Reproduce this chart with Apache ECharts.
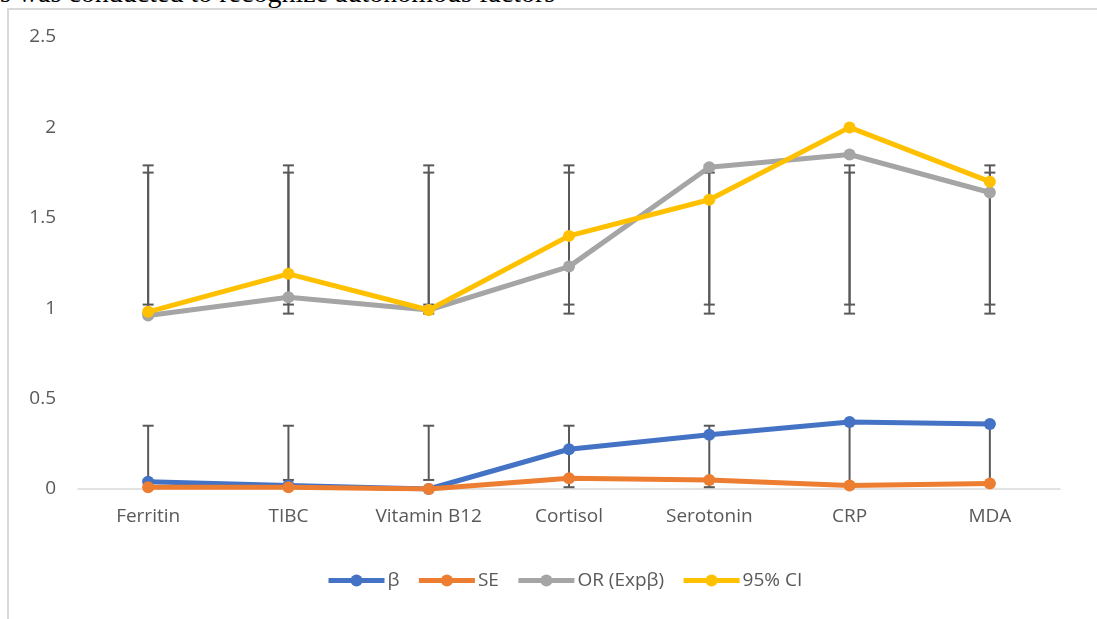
<!DOCTYPE html>
<html>
<head>
<meta charset="utf-8">
<script src="https://cdn.jsdelivr.net/npm/echarts@6/dist/echarts.min.js"></script>
<style>
  html, body { margin: 0; padding: 0; background: #fff; overflow: hidden; }
  #wrap { position: relative; width: 1097px; height: 619px; overflow: hidden; }
  #topText { position: absolute; left: 0; top: -21px; font-family: "Liberation Serif", serif; font-size: 28px; line-height: 28px; color: #000; white-space: nowrap; }
  #frame { position: absolute; left: 7px; top: 8px; width: 1200px; height: 700px; border: 2px solid #D9D9D9; box-sizing: border-box; }
  #chart { position: absolute; left: 0; top: 0; width: 1097px; height: 619px; }
</style>
</head>
<body>
<div id="wrap">
  <div id="topText">s was conducted to recognize autonomous factors</div>
  <div id="frame"></div>
  <div id="chart"></div>
</div>
<script>
const categories = ['Ferritin', 'TIBC', 'Vitamin B12', 'Cortisol', 'Serotonin', 'CRP', 'MDA'];
const seriesNames = ['β', 'SE', 'OR (Expβ)', '95% CI'];
const beta = [0.04, 0.02, 0.00, 0.22, 0.30, 0.37, 0.36];
const se = [0.01, 0.01, 0.00, 0.06, 0.05, 0.02, 0.03];
const orExp = [0.96, 1.06, 0.99, 1.23, 1.78, 1.85, 1.64];
const ci95 = [0.98, 1.19, 0.99, 1.40, 1.60, 2.00, 1.70];
// error bar ends (custom error bars)
const orErrLow = [0.97, 0.97, 0.97, 0.97, 0.97, 0.97, 0.97];
const orErrHigh = [1.75, 1.75, 1.75, 1.75, 1.75, 1.75, 1.75];
const ciErrLow = [1.02, 1.02, 1.02, 1.02, 1.02, 1.02, 1.02];
const ciErrHigh = [1.79, 1.79, 1.79, 1.79, 1.79, 1.79, 1.79];
const betaErrLow = [0.05, 0.05, 0.05, 0.01, 0.01, 0.02, 0.03];
const betaErrHigh = [0.35, 0.35, 0.35, 0.35, 0.35, 0.36, 0.36];
const yTicks = { min: 0, max: 2.5, interval: 0.5 };

const colors = ['#4472C4', '#ED7D31', '#A5A5A5', '#FFC000'];
const values = [beta, se, orExp, ci95];
const labelFont = 'Open Sans';

function errData(lo, hi) {
  return categories.map((c, i) => [i, lo[i], hi[i]]);
}
function renderErr(params, api) {
  const a = api.coord([api.value(0), api.value(1)]);
  const b = api.coord([api.value(0), api.value(2)]);
  const hw = 5.5;
  const st = { stroke: '#595959', lineWidth: 2 };
  return {
    type: 'group',
    children: [
      { type: 'line', shape: { x1: a[0], y1: a[1], x2: b[0], y2: b[1] }, style: st },
      { type: 'line', shape: { x1: a[0] - hw, y1: a[1], x2: a[0] + hw, y2: a[1] }, style: st },
      { type: 'line', shape: { x1: b[0] - hw, y1: b[1], x2: b[0] + hw, y2: b[1] }, style: st }
    ]
  };
}

const errSeries = [
  [orErrLow, orErrHigh], [ciErrLow, ciErrHigh], [betaErrLow, betaErrHigh]
].map(p => ({
  type: 'custom',
  renderItem: renderErr,
  data: errData(p[0], p[1]),
  z: 1,
  silent: true
}));

const lineSeries = seriesNames.map((n, k) => ({
  name: n,
  type: 'line',
  data: values[k],
  symbol: 'circle',
  symbolSize: 12,
  z: 2 + k,
  itemStyle: { color: colors[k] },
  lineStyle: { width: 5, color: colors[k] },
  emphasis: { disabled: true }
}));

const chart = echarts.init(document.getElementById('chart'), null, { renderer: 'canvas' });
chart.setOption({
  animation: false,
  textStyle: { fontFamily: labelFont },
  grid: { left: 78, right: 37, top: 37, bottom: 130, containLabel: false },
  legend: {
    data: seriesNames,
    left: 321,
    top: 566,
    itemWidth: 56,
    itemHeight: 15,
    itemGap: 17,
    textStyle: { fontFamily: labelFont, fontSize: 19, color: '#595959', padding: [0, 0, 0, -2] },
    lineStyle: { width: 5 }
  },
  xAxis: {
    type: 'category',
    data: categories,
    boundaryGap: true,
    axisLine: { lineStyle: { color: '#D9D9D9', width: 1.5 } },
    axisTick: { show: false },
    axisLabel: { interval: 0, fontFamily: labelFont, fontSize: 19, color: '#595959', margin: 18 }
  },
  yAxis: {
    type: 'value',
    min: yTicks.min,
    max: yTicks.max,
    interval: yTicks.interval,
    axisLine: { show: false },
    axisTick: { show: false },
    splitLine: { show: false },
    axisLabel: { fontFamily: labelFont, fontSize: 19, color: '#595959', margin: 22 }
  },
  series: errSeries.concat(lineSeries)
});
</script>
</body>
</html>
